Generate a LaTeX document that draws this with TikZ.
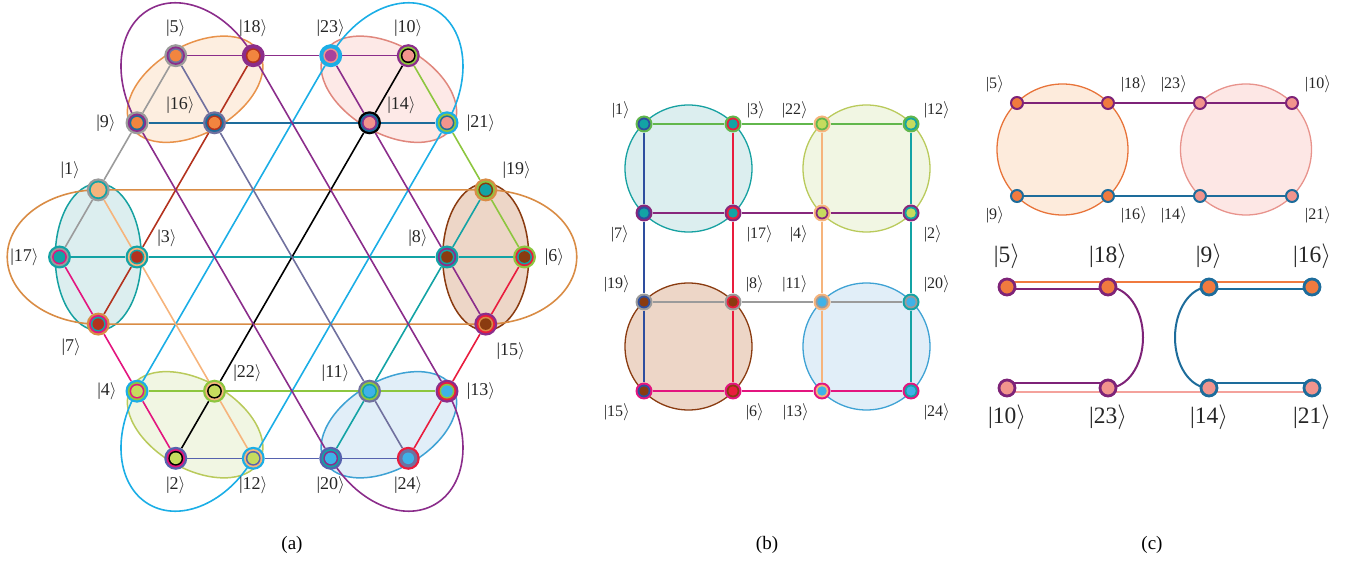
\documentclass[tikz,border=0pt]{standalone}
\usepackage{fontspec}
\setmainfont{Liberation Serif}
\usetikzlibrary{shapes.geometric,backgrounds}

\definecolor{kpurple}{HTML}{8B2D8B}
\definecolor{kblue}{HTML}{1D6C9B}
\definecolor{korange}{HTML}{D98C45}
\definecolor{kteal}{HTML}{13A3A5}
\definecolor{kgreen}{HTML}{8DC63F}
\definecolor{kslate}{HTML}{5662AE}
\definecolor{kred}{HTML}{B3321E}
\definecolor{kgray}{HTML}{9B9B9B}
\definecolor{kcyan}{HTML}{1BAEE6}
\definecolor{kcrimson}{HTML}{E91D3E}
\definecolor{kviolet}{HTML}{70709E}
\definecolor{kpeach}{HTML}{F6B47C}
\definecolor{kmagenta}{HTML}{E3157F}
\definecolor{kbrown}{HTML}{8A3B10}
\definecolor{kgreenb}{HTML}{62B74C}
\definecolor{kpurpleb}{HTML}{87277C}
\definecolor{kdblue}{HTML}{2E4E9F}
\definecolor{kpurplec}{HTML}{7E2378}
\definecolor{fOrange}{HTML}{F2853F}
\definecolor{fPink}{HTML}{F1948D}
\definecolor{fLime}{HTML}{C6DB5E}
\definecolor{fSky}{HTML}{3FB2E8}
\definecolor{fPurple}{HTML}{A8429C}
\definecolor{lOrange}{HTML}{F07A3F}
\definecolor{lPink}{HTML}{F4A29C}
% zones
\definecolor{zOrangeD}{HTML}{E8924A}
\definecolor{zOrangeF}{HTML}{FDEEE0}
\definecolor{zPinkD}{HTML}{E0877D}
\definecolor{zPinkF}{HTML}{FDE9E7}
\definecolor{zLimeD}{HTML}{B9CA5B}
\definecolor{zLimeF}{HTML}{F1F6E3}
\definecolor{zSkyD}{HTML}{3EA2D4}
\definecolor{zSkyF}{HTML}{E1EEF8}
\definecolor{zTealD}{HTML}{16A1A1}
\definecolor{zTealF}{HTML}{DCEEEF}
\definecolor{zBrownF}{HTML}{EDD6C7}
\definecolor{zCoralD}{HTML}{E8743A}
\definecolor{zCoralF}{HTML}{FDEBDC}
\definecolor{zRoseD}{HTML}{E8938C}
\definecolor{zRoseF}{HTML}{FDE7E5}

\newcommand{\kt}[1]{|#1$\rangle$}

\begin{document}
\begin{tikzpicture}[x=1pt,y=1pt,
    lab/.style={inner sep=0pt,text=black!85,font=\fontsize{18}{18}\selectfont},
    labs/.style={inner sep=0pt,text=black!85,font=\fontsize{16}{16}\selectfont},
    labl/.style={inner sep=0pt,text=black!85,font=\fontsize{23.5}{24}\selectfont},
    captext/.style={inner sep=0pt,font=\fontsize{19}{19}\selectfont},
    qa/.style n args={4}{circle,inner sep=0pt,minimum size=23pt,fill=#1,
      path picture={\fill[#2] (path picture bounding box.center) circle (9.2pt);
                    \fill[#3] (path picture bounding box.center) circle (7.4pt);
                    \fill[#4] (path picture bounding box.center) circle (5.8pt);}},
    qb/.style n args={3}{circle,inner sep=0pt,minimum size=17pt,fill=#1,
      path picture={\fill[#2] (path picture bounding box.center) circle (6.4pt);
                    \fill[#3] (path picture bounding box.center) circle (4.7pt);}},
    qc/.style 2 args={circle,inner sep=0pt,minimum size=12pt,line width=2pt,draw=#1,fill=#2},
    qd/.style 2 args={circle,inner sep=0pt,minimum size=16pt,line width=2.8pt,draw=#1,fill=#2},
    zone/.style 2 args={draw=#1,fill=#2,line width=1.5pt,inner sep=0pt},
    ln/.style={line width=1.6pt}]
\useasboundingbox (0,0) rectangle (1361,563);

% (a) hexagram lattice
\begin{scope}[shift={(292,306)},x=38.75pt,y=67.1pt]
    \node[qa={kgray}{kpurple}{kviolet}{fOrange}] (a5) at (-3,3) {};
    \node[qa={kpurple}{kpurple}{kred}{fOrange}] (a18) at (-1,3) {};
    \node[qa={kcyan}{kcyan}{fPink}{fPurple}] (a23) at (1,3) {};
    \node[qa={kpurple}{kgreen}{black}{fPink}] (a10) at (3,3) {};
    \node[qa={kgray}{kpurple}{kblue}{fOrange}] (a9) at (-4,2) {};
    \node[qa={kviolet}{kblue}{kred}{fOrange}] (a16) at (-2,2) {};
    \node[qa={black}{kblue}{kpurple}{fPink}] (a14) at (2,2) {};
    \node[qa={kcyan}{kgreen}{kblue}{fPink}] (a21) at (4,2) {};
    \node[qa={kgray}{kteal}{kpeach}{kpeach}] (a1) at (-5,1) {};
    \node[qa={korange}{kgreen}{kbrown}{kteal}] (a19) at (5,1) {};
    \node[qa={kteal}{kgray}{kmagenta}{kteal}] (a17) at (-6,0) {};
    \node[qa={kteal}{kpeach}{kteal}{kred}] (a3) at (-4,0) {};
    \node[qa={kteal}{kpurple}{kteal}{kbrown}] (a8) at (4,0) {};
    \node[qa={kgreen}{kcrimson}{kteal}{kbrown}] (a6) at (6,0) {};
    \node[qa={korange}{kmagenta}{kteal}{kred}] (a7) at (-5,-1) {};
    \node[qa={kpurple}{kcrimson}{korange}{kbrown}] (a15) at (5,-1) {};
    \node[qa={kcyan}{kgreen}{kmagenta}{fLime}] (a4) at (-4,-2) {};
    \node[qa={kgreen}{kpeach}{black}{fLime}] (a22) at (-2,-2) {};
    \node[qa={kviolet}{kgreen}{kteal}{fSky}] (a11) at (2,-2) {};
    \node[qa={kpurple}{kcrimson}{kgreen}{fSky}] (a13) at (4,-2) {};
    \node[qa={kslate}{kmagenta}{black}{fLime}] (a2) at (-3,-3) {};
    \node[qa={kcyan}{kpeach}{kslate}{fLime}] (a12) at (-1,-3) {};
    \node[qa={kslate}{kteal}{kpurple}{fSky}] (a20) at (1,-3) {};
    \node[qa={kcrimson}{kviolet}{kviolet}{fSky}] (a24) at (3,-3) {};

    \begin{pgfonlayer}{background}
        \node[zone={zOrangeD}{zOrangeF}, ellipse, rotate=30, minimum width=148pt, minimum height=88pt] (zA) at (-2.5,2.5) {};
        \node[zone={zPinkD}{zPinkF}, ellipse, rotate=-30, minimum width=148pt, minimum height=88pt] (zB) at (2.5,2.5) {};
        \node[zone={zLimeD}{zLimeF}, ellipse, rotate=-30, minimum width=148pt, minimum height=88pt] (zC) at (-2.5,-2.5) {};
        \node[zone={zSkyD}{zSkyF}, ellipse, rotate=30, minimum width=148pt, minimum height=88pt] (zD) at (2.5,-2.5) {};
        \node[zone={zTealD}{zTealF}, ellipse, minimum width=86pt, minimum height=147pt] (zE) at (-5,0) {};
        \node[zone={kbrown}{zBrownF}, ellipse, minimum width=86pt, minimum height=147pt] (zF) at (5,0) {};

        % rows
        \draw[ln,kpurple] (a5) -- (a18) -- (a23) -- (a10);
        \draw[ln,kblue] (a9) -- (a16) -- (a14) -- (a21);
        \draw[ln,kteal] (a17) -- (a3) -- (a8) -- (a6);
        \draw[ln,kgreen] (a4) -- (a22) -- (a11) -- (a13);
        \draw[ln,kslate] (a2) -- (a12) -- (a20) -- (a24);
        \draw[ln,korange] (a1.center) -- (a19.center)
            arc[start angle=90, end angle=-90, x radius=91pt, y radius=67.1pt] -- (a7.center)
            arc[start angle=270, end angle=90, x radius=91pt, y radius=67.1pt];
        % rising
        \draw[ln,kred] (a7) -- (a3) -- (a16) -- (a18);
        \draw[ln,kgray] (a17) -- (a1) -- (a9) -- (a5);
        \draw[ln,kcyan] (a4) -- (a23);
        \draw[ln,black] (a2) -- (a22) -- (a14) -- (a10);
        \draw[ln,kcyan] (a12) -- (a21);
        \draw[ln,kteal] (a20) -- (a11) -- (a8) -- (a19);
        \draw[ln,kcrimson] (a24) -- (a13) -- (a15) -- (a6);
        % falling
        \draw[ln,kviolet] (a5) -- (a16) -- (a11) -- (a24);
        \draw[ln,kpurple] (a9) -- (a20);
        \draw[ln,kpeach] (a1) -- (a3) -- (a22) -- (a12);
        \draw[ln,kmagenta] (a17) -- (a7) -- (a4) -- (a2);
        \draw[ln,kpurple] (a18) -- (a13);
        \draw[ln,kpurple] (a23) -- (a14) -- (a8) -- (a15);
        \draw[ln,kgreen] (a10) -- (a21) -- (a19) -- (a6);
        % loops
        \draw[ln,kpurple,rotate=30] (a9.center) arc[start angle=180, end angle=0, x radius=67.1pt, y radius=92pt];
        \draw[ln,kcyan,rotate=-30] (a23.center) arc[start angle=180, end angle=0, x radius=67.1pt, y radius=92pt];
        \draw[ln,kcyan,rotate=-30] (a4.center) arc[start angle=180, end angle=360, x radius=67.1pt, y radius=92pt];
        \draw[ln,kpurple,rotate=30] (a20.center) arc[start angle=180, end angle=360, x radius=67.1pt, y radius=92pt];
    \end{pgfonlayer}

    \node[lab] (l5) at ([yshift=28pt]a5) {\kt{5}};
    \node[lab] (l18) at ([yshift=28pt]a18) {\kt{18}};
    \node[lab] (l23) at ([yshift=28pt]a23) {\kt{23}};
    \node[lab] (l10) at ([yshift=28pt]a10) {\kt{10}};
    \node[lab] (l9) at ([xshift=-31pt]a9) {\kt{9}};
    \node[lab] (l16) at ([shift={(-34pt,18pt)}]a16) {\kt{16}};
    \node[lab] (l14) at ([shift={(32pt,18pt)}]a14) {\kt{14}};
    \node[lab] (l21) at ([xshift=34pt]a21) {\kt{21}};
    \node[lab] (l1) at ([shift={(-28pt,20pt)}]a1) {\kt{1}};
    \node[lab] (l19) at ([shift={(31pt,20pt)}]a19) {\kt{19}};
    \node[lab] (l17) at ([xshift=-35pt]a17) {\kt{17}};
    \node[lab] (l3) at ([shift={(30pt,19pt)}]a3) {\kt{3}};
    \node[lab] (l8) at ([shift={(-29pt,19pt)}]a8) {\kt{8}};
    \node[lab] (l6) at ([xshift=30pt]a6) {\kt{6}};
    \node[lab] (l7) at ([shift={(-27pt,-23pt)}]a7) {\kt{7}};
    \node[lab] (l15) at ([shift={(25pt,-27pt)}]a15) {\kt{15}};
    \node[lab] (l4) at ([xshift=-30pt]a4) {\kt{4}};
    \node[lab] (l22) at ([shift={(33pt,18pt)}]a22) {\kt{22}};
    \node[lab] (l11) at ([shift={(-34pt,18pt)}]a11) {\kt{11}};
    \node[lab] (l13) at ([xshift=34pt]a13) {\kt{13}};
    \node[lab] (l2) at ([yshift=-27pt]a2) {\kt{2}};
    \node[lab] (l12) at ([yshift=-27pt]a12) {\kt{12}};
    \node[lab] (l20) at ([yshift=-27pt]a20) {\kt{20}};
    \node[lab] (l24) at ([yshift=-27pt]a24) {\kt{24}};
\end{scope}

% (b) square grid
\begin{scope}[shift={(644,172)},x=89pt,y=89pt]
    \node[qb={kgreenb}{kdblue}{kteal}] (b1) at (0,3) {};
    \node[qb={kgreenb}{kcrimson}{kteal}] (b3) at (1,3) {};
    \node[qb={kpeach}{kgreenb}{fLime}] (b22) at (2,3) {};
    \node[qb={kgreenb}{kteal}{fLime}] (b12) at (3,3) {};
    \node[qb={kpurpleb}{kdblue}{kteal}] (b7) at (0,2) {};
    \node[qb={kpurpleb}{kcrimson}{kteal}] (b17) at (1,2) {};
    \node[qb={kpeach}{kpurpleb}{fLime}] (b4) at (2,2) {};
    \node[qb={kpurpleb}{kteal}{fLime}] (b2) at (3,2) {};
    \node[qb={kgray}{kdblue}{kbrown}] (b19) at (0,1) {};
    \node[qb={kgray}{kcrimson}{kbrown}] (b8) at (1,1) {};
    \node[qb={kpeach}{kgray}{fSky}] (b11) at (2,1) {};
    \node[qb={kteal}{kgray}{fSky}] (b20) at (3,1) {};
    \node[qb={kmagenta}{kdblue}{kbrown}] (b15) at (0,0) {};
    \node[qb={kmagenta}{kbrown}{kcrimson}] (b6) at (1,0) {};
    \node[qb={kmagenta}{kpeach}{fSky}] (b13) at (2,0) {};
    \node[qb={kmagenta}{kteal}{fSky}] (b24) at (3,0) {};

    \begin{pgfonlayer}{background}
        \node[zone={zTealD}{zTealF}, circle, line width=1.3pt, minimum size=127pt] (rA) at (0.5,2.5) {};
        \node[zone={zLimeD}{zLimeF}, circle, line width=1.3pt, minimum size=127pt] (rB) at (2.5,2.5) {};
        \node[zone={kbrown}{zBrownF}, circle, line width=1.3pt, minimum size=127pt] (rC) at (0.5,0.5) {};
        \node[zone={zSkyD}{zSkyF}, circle, line width=1.3pt, minimum size=127pt] (rD) at (2.5,0.5) {};
        \draw[ln,kgreenb] (b1) -- (b3) -- (b22) -- (b12);
        \draw[ln,kpurpleb] (b7) -- (b17) -- (b4) -- (b2);
        \draw[ln,kgray] (b19) -- (b8) -- (b11) -- (b20);
        \draw[ln,kmagenta] (b15) -- (b6) -- (b13) -- (b24);
        \draw[ln,kdblue] (b1) -- (b7) -- (b19) -- (b15);
        \draw[ln,kcrimson] (b3) -- (b17) -- (b8) -- (b6);
        \draw[ln,kpeach] (b22) -- (b4) -- (b11) -- (b13);
        \draw[ln,kteal] (b12) -- (b2) -- (b20) -- (b24);
    \end{pgfonlayer}

    \node[labs] (m1) at ([shift={(-23pt,14pt)}]b1) {\kt{1}};
    \node[labs] (m3) at ([shift={(23pt,14pt)}]b3) {\kt{3}};
    \node[labs] (m22) at ([shift={(-27pt,14pt)}]b22) {\kt{22}};
    \node[labs] (m12) at ([shift={(26pt,14pt)}]b12) {\kt{12}};
    \node[labs] (m7) at ([shift={(-24pt,-21pt)}]b7) {\kt{7}};
    \node[labs] (m17) at ([shift={(27pt,-21pt)}]b17) {\kt{17}};
    \node[labs] (m4) at ([shift={(-23pt,-21pt)}]b4) {\kt{4}};
    \node[labs] (m2) at ([shift={(22pt,-21pt)}]b2) {\kt{2}};
    \node[labs] (m19) at ([shift={(-27pt,18pt)}]b19) {\kt{19}};
    \node[labs] (m8) at ([shift={(22pt,18pt)}]b8) {\kt{8}};
    \node[labs] (m11) at ([shift={(-27pt,18pt)}]b11) {\kt{11}};
    \node[labs] (m20) at ([shift={(26pt,18pt)}]b20) {\kt{20}};
    \node[labs] (m15) at ([shift={(-27pt,-21pt)}]b15) {\kt{15}};
    \node[labs] (m6) at ([shift={(22pt,-21pt)}]b6) {\kt{6}};
    \node[labs] (m13) at ([shift={(-26pt,-21pt)}]b13) {\kt{13}};
    \node[labs] (m24) at ([shift={(26pt,-21pt)}]b24) {\kt{24}};
\end{scope}

% (c) two pairs and their chains
\node[qc={kpurplec}{lOrange}] (c5) at (1017,460) {};
\node[qc={kpurplec}{lOrange}] (c18) at (1108,460) {};
\node[qc={kpurplec}{fPink}] (c23) at (1200,460) {};
\node[qc={kpurplec}{fPink}] (c10) at (1292,460) {};
\node[qc={kblue}{lOrange}] (c9) at (1017,367) {};
\node[qc={kblue}{lOrange}] (c16) at (1108,367) {};
\node[qc={kblue}{fPink}] (c14) at (1200,367) {};
\node[qc={kblue}{fPink}] (c21) at (1292,367) {};

\node[qd={kpurplec}{lOrange}] (d5) at (1007,276) {};
\node[qd={kpurplec}{lOrange}] (d18) at (1108,276) {};
\node[qd={kblue}{lOrange}] (d9) at (1209,276) {};
\node[qd={kblue}{lOrange}] (d16) at (1312,276) {};
\node[qd={kpurplec}{fPink}] (d10) at (1007,175) {};
\node[qd={kpurplec}{fPink}] (d23) at (1108,175) {};
\node[qd={kblue}{fPink}] (d14) at (1209,175) {};
\node[qd={kblue}{fPink}] (d21) at (1312,175) {};

\begin{pgfonlayer}{background}
    \node[zone={zCoralD}{zCoralF}, circle, line width=1.3pt, minimum size=131pt] (rE) at (1062.5,413.5) {};
    \node[zone={zRoseD}{zRoseF}, circle, line width=1.3pt, minimum size=131pt] (rF) at (1246,413.5) {};
    \draw[line width=1.2pt,kpurplec] (c5) -- (c18) -- (c23) -- (c10);
    \draw[line width=1.2pt,kblue] (c9) -- (c16) -- (c14) -- (c21);

    \draw[line width=1.8pt,lOrange] ([yshift=5pt]d5.center) -- ([yshift=5pt]d16.center);
    \draw[line width=2pt,kpurplec] ([yshift=-2pt]d5.center) -- ([yshift=-2pt]d18.center);
    \draw[line width=2pt,kblue] ([yshift=-2pt]d9.center) -- ([yshift=-2pt]d16.center);
    \draw[line width=2pt,kpurplec] ([yshift=5pt]d10.center) -- ([yshift=5pt]d23.center);
    \draw[line width=1.8pt,lPink] ([yshift=-4pt]d10.center) -- ([yshift=-4pt]d21.center);
    \draw[line width=2pt,kblue] ([yshift=5pt]d14.center) -- ([yshift=5pt]d21.center);
    \draw[line width=2pt,kpurplec] (d18.center) arc[start angle=90, end angle=-90, x radius=35pt, y radius=50.5pt];
    \draw[line width=2pt,kblue] (d9.center) arc[start angle=90, end angle=270, x radius=34pt, y radius=50.5pt];
\end{pgfonlayer}

\node[labs] (n5) at ([shift={(-22pt,18.5pt)}]c5) {\kt{5}};
\node[labs] (n18) at ([shift={(26pt,18.5pt)}]c18) {\kt{18}};
\node[labs] (n23) at ([shift={(-26pt,18.5pt)}]c23) {\kt{23}};
\node[labs] (n10) at ([shift={(26pt,18.5pt)}]c10) {\kt{10}};
\node[labs] (n9) at ([shift={(-22pt,-19pt)}]c9) {\kt{9}};
\node[labs] (n16) at ([shift={(26pt,-19pt)}]c16) {\kt{16}};
\node[labs] (n14) at ([shift={(-26pt,-19pt)}]c14) {\kt{14}};
\node[labs] (n21) at ([shift={(26pt,-19pt)}]c21) {\kt{21}};

\node[labl] (p5) at ([yshift=31pt]d5) {\kt{5}};
\node[labl] (p18) at ([yshift=31pt]d18) {\kt{18}};
\node[labl] (p9) at ([yshift=31pt]d9) {\kt{9}};
\node[labl] (p16) at ([yshift=31pt]d16) {\kt{16}};
\node[labl] (p10) at ([yshift=-29pt]d10) {\kt{10}};
\node[labl] (p23) at ([yshift=-29pt]d23) {\kt{23}};
\node[labl] (p14) at ([yshift=-29pt]d14) {\kt{14}};
\node[labl] (p21) at ([yshift=-29pt]d21) {\kt{21}};

% captions
\node[captext] (capa) at (292,18) {(a)};
\node[captext] (capb) at (767,18) {(b)};
\node[captext] (capc) at (1152,18) {(c)};
\end{tikzpicture}
\end{document}
